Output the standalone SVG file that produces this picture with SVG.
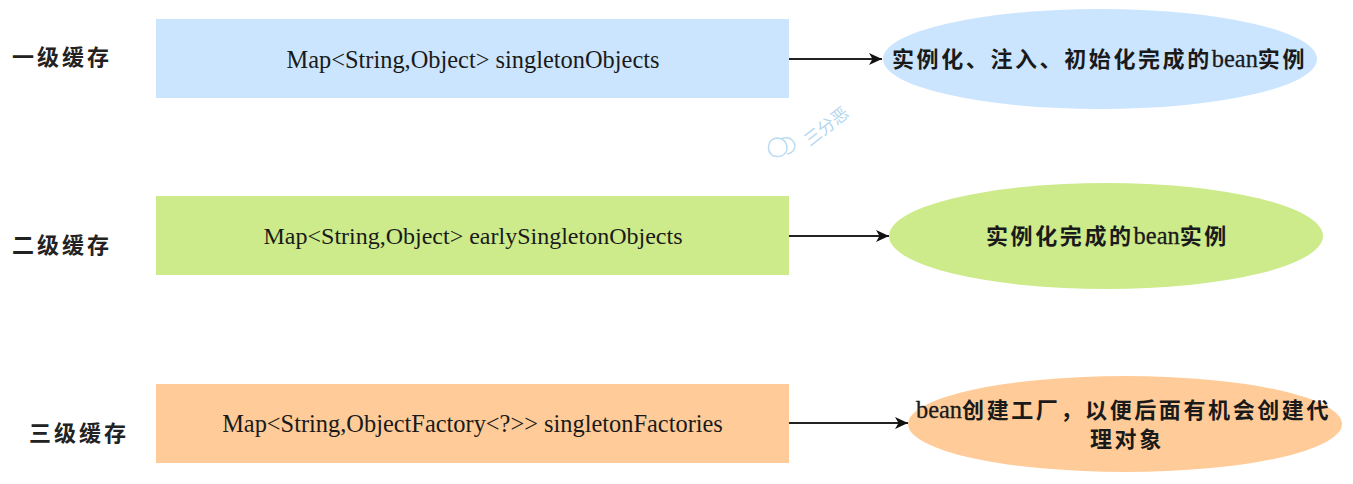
<svg xmlns="http://www.w3.org/2000/svg" width="1353" height="484" viewBox="0 0 1353 484">
<style>
.m{font-family:"Liberation Serif","Noto Sans CJK SC",serif;font-size:24.4px;fill:#1a1a1a;text-anchor:middle}
.c{font-family:"Noto Sans CJK SC",serif;font-size:22px;font-weight:700;fill:#1a1a1a;letter-spacing:2.6px}
.b{font-family:"Liberation Serif",serif;font-size:24.4px;font-weight:400;letter-spacing:0;stroke:#1a1a1a;stroke-width:0.3px}
.l{font-family:"Noto Sans CJK SC",serif;font-size:22px;font-weight:700;fill:#222;letter-spacing:3px}
.e{fill:none;stroke:#222;stroke-width:2}
.blue{fill:#cce5ff}.green{fill:#cdeb8b}.orange{fill:#ffcc99}
.w{fill:none;stroke:#bcdcf2;stroke-width:1.5}
</style>
<defs>
<marker id="a" markerUnits="userSpaceOnUse" markerWidth="15" markerHeight="15" refX="13" refY="7.5" orient="auto"><path d="M0,1.5 L13,7.5 L0,13.5 L3.5,7.5 Z" fill="#111"/></marker>
</defs>
<rect width="1353" height="484" fill="#fff"/>
<g id="watermark">
<path class="w" d="M773,156 C766,151 767,139 777,138 C783,138 787,142 787,148 C787,154 781,158 775,156 Z"/>
<path class="w" d="M787,154 C794,153 797,146 793,141 C790,137 784,137 781,139"/>
<text x="830" y="131" transform="rotate(-38 830 131)" font-family="Noto Sans CJK SC,serif" font-size="17" fill="#b4d7f0" text-anchor="middle">三分恶</text>
</g>
<g id="connectors">
<line class="e" x1="789" y1="59" x2="882" y2="59" marker-end="url(#a)"/>
<line class="e" x1="789" y1="236" x2="889" y2="236" marker-end="url(#a)"/>
<line class="e" x1="789" y1="423" x2="908" y2="423" marker-end="url(#a)"/>
</g>
<g id="label1"><text class="l" x="12" y="65">一级缓存</text></g>
<g id="label2"><text class="l" x="12" y="253">二级缓存</text></g>
<g id="label3"><text class="l" x="29" y="441">三级缓存</text></g>
<g id="box1"><rect class="blue" x="156" y="19" width="633" height="79"/><text class="m" x="473" y="68">Map&lt;String,Object&gt; singletonObjects</text></g>
<g id="box2"><rect class="green" x="156" y="196" width="633" height="79"/><text class="m" x="473" y="244" style="font-size:24px">Map&lt;String,Object&gt; earlySingletonObjects</text></g>
<g id="box3"><rect class="orange" x="156" y="384" width="633" height="79"/><text class="m" x="472.5" y="432">Map&lt;String,ObjectFactory&lt;?&gt;&gt; singletonFactories</text></g>
<g id="ellipse1"><ellipse class="blue" cx="1100" cy="59" rx="217" ry="50"/><text class="c" x="892" y="67">实例化、注入、初始化完成的<tspan class="b">bean</tspan>实例</text></g>
<g id="ellipse2"><ellipse class="green" cx="1106" cy="236" rx="217" ry="53"/><text class="c" x="986" y="244">实例化完成的<tspan class="b">bean</tspan>实例</text></g>
<g id="ellipse3"><ellipse class="orange" cx="1125" cy="424" rx="217" ry="48"/><text class="c" x="916" y="418"><tspan class="b">bean</tspan>创建工厂，以便后面有机会创建代</text><text class="c" x="1090" y="447">理对象</text></g>
</svg>
